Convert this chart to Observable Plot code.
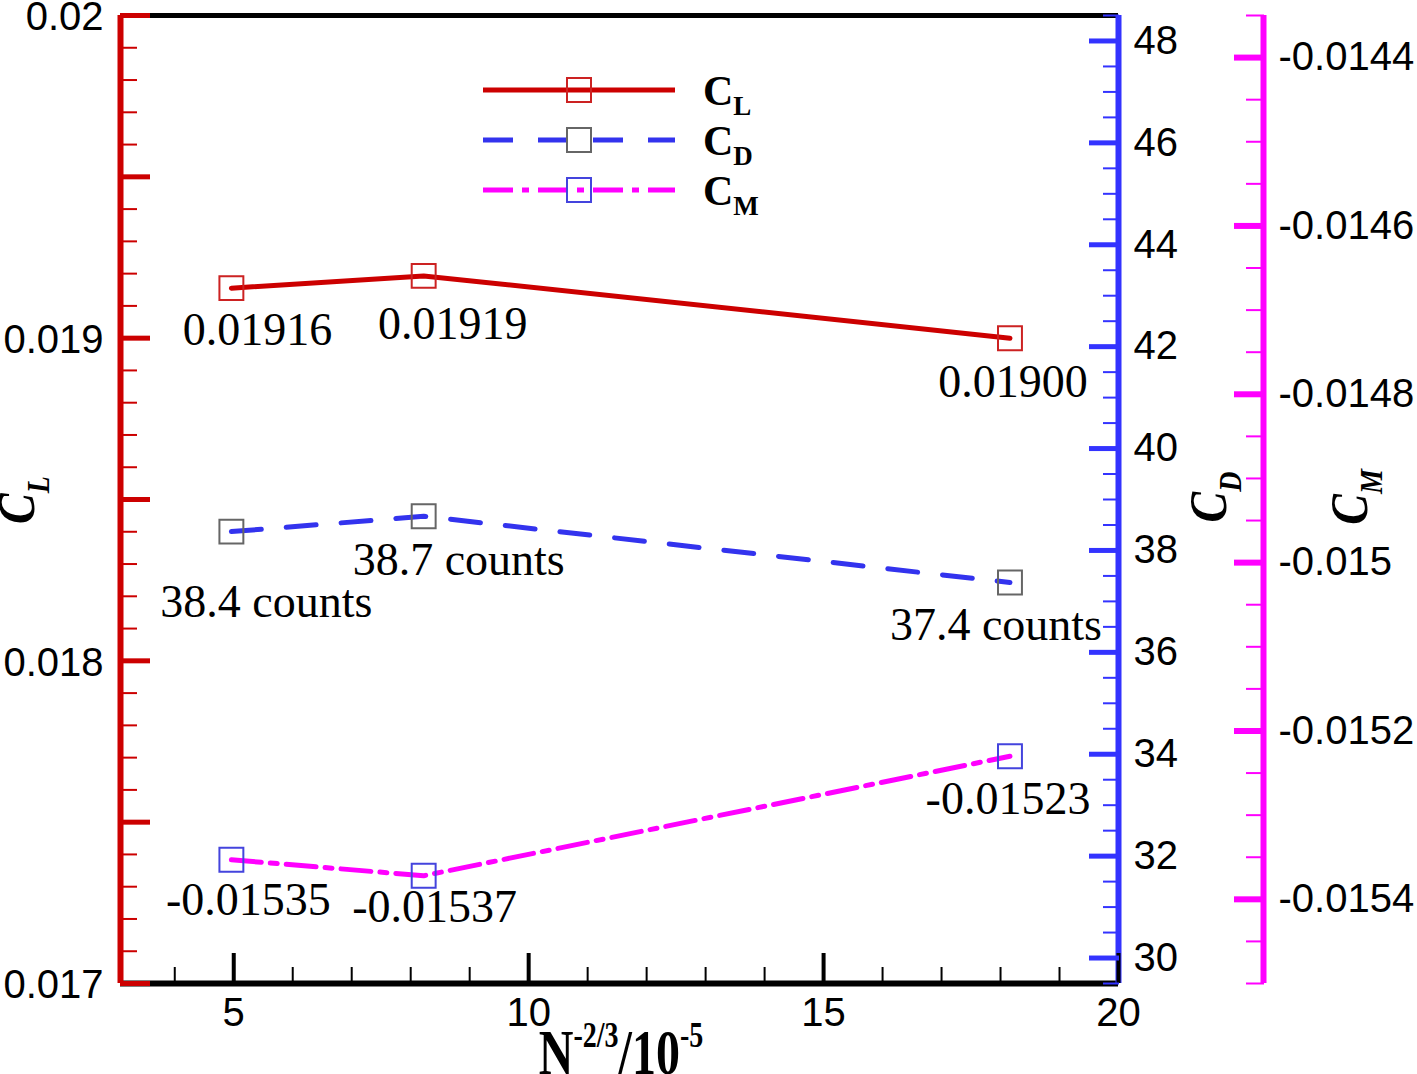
<!DOCTYPE html>
<html><head><meta charset="utf-8">
<script src="https://cdn.jsdelivr.net/npm/d3@7"></script>
<script src="https://cdn.jsdelivr.net/npm/@observablehq/plot@0.6"></script>
<style>body{margin:0;background:#fff}svg{display:block}</style>
</head><body><div id="chart"></div>
<script>
// ---- data ----
const xValues = [4.96, 8.22, 18.16];
const clValues = [0.019155, 0.019193, 0.019000];
const cdValues = [38.37, 38.67, 37.37];
const cmValues = [-0.015353, -0.015372, -0.015230];
const clLabels = ["0.01916", "0.01919", "0.01900"];
const cdLabels = ["38.4 counts", "38.7 counts", "37.4 counts"];
const cmLabels = ["-0.01535", "-0.01537", "-0.01523"];
const xDomain = [3.08, 20];
const clDomain = [0.017, 0.020];
const cdDomain = [29.5, 48.5];
const cmDomain = [-0.0155, -0.01435];
const xTickLabels = [5, 10, 15, 20];
const clTickLabels = [0.017, 0.018, 0.019, 0.02];
const cdTickLabels = [30, 32, 34, 36, 38, 40, 42, 44, 46, 48];
const cmTickLabels = [-0.0154, -0.0152, -0.015, -0.0148, -0.0146, -0.0144];

// ---- styles / layout ----
const RED = "#cc0000", BLUE = "#3333ff", MAG = "#ff00ff";
const W = 1417, H = 1074, mL = 120, mR = 299, mT = 15, mB = 91;
const MAG_DX = 145;
const labelOffsets = {
  CL: [[26, 57], [29, 63], [3, 59]],
  CD: [[35, 85], [35, 59], [-14, 57]],
  CM: [[17, 55], [11, 46], [-2, 58]]
};

const cdToCL = d3.scaleLinear(cdDomain, clDomain);
const cmToCL = d3.scaleLinear(cmDomain, clDomain);

const rows = (name, vals, map, labels) => xValues.map((x, i) => ({series: name, x, y: map(vals[i]), label: labels[i], i}));
const clRows = rows("CL", clValues, v => v, clLabels);
const cdRows = rows("CD", cdValues, cdToCL, cdLabels);
const cmRows = rows("CM", cmValues, cmToCL, cmLabels);

const xMinor = d3.range(4, 20, 1);
const clMajor = d3.range(0, 7).map(i => clDomain[0] + i * 0.0005);
const clMinor = d3.range(0, 31).map(i => clDomain[0] + i * 0.0001);
const cdMinor = d3.range(0, 39).map(i => cdDomain[0] + i * 0.5);
const cmMinor = d3.range(0, 24).map(i => cmDomain[0] + i * 0.00005);

const labelMarks = [];
for (const [rs, key] of [[clRows, "CL"], [cdRows, "CD"], [cmRows, "CM"]]) {
  rs.forEach((r, i) => {
    labelMarks.push(Plot.text([r], {x: "x", y: "y", text: "label", dx: labelOffsets[key][i][0], dy: labelOffsets[key][i][1],
      lineAnchor: "bottom", textAnchor: "middle", fontFamily: "Liberation Serif", fontSize: 46, fill: "black"}));
  });
}

const chart = Plot.plot({
  width: W, height: H,
  marginLeft: mL, marginRight: mR, marginTop: mT, marginBottom: mB,
  style: {fontFamily: "Liberation Sans", fontSize: "40px", color: "black", background: "white", overflow: "visible"},
  x: {domain: xDomain, label: null},
  y: {domain: clDomain, label: null},
  marks: [
    // frame
    Plot.ruleY([clDomain[1]], {stroke: "black", strokeWidth: 5}),
    Plot.ruleY([clDomain[0]], {stroke: "black", strokeWidth: 6}),
    Plot.ruleX([xDomain[0]], {stroke: RED, strokeWidth: 6}),
    Plot.ruleX([xDomain[1]], {stroke: BLUE, strokeWidth: 6}),
    Plot.ruleX([xDomain[1]], {stroke: MAG, strokeWidth: 6, dx: MAG_DX}),
    // left CL axis ticks (inward)
    Plot.axisY(clMinor, {anchor: "left", tickSize: 17, dx: 17, stroke: RED, strokeWidth: 2, fill: "none", label: null}),
    Plot.axisY(clMajor, {anchor: "left", tickSize: 30, dx: 30, stroke: RED, strokeWidth: 5, fill: "none", label: null}),
    Plot.axisY(clTickLabels, {anchor: "left", tickSize: 0, tickPadding: 17, dy: 2, tickFormat: d => String(d), fontSize: 40, label: null}),
    // bottom x axis
    Plot.axisX(xMinor, {anchor: "bottom", tickSize: 16, dy: -16, stroke: "black", strokeWidth: 2, fill: "none", label: null}),
    Plot.axisX(xTickLabels, {anchor: "bottom", tickSize: 30, dy: -30, stroke: "black", strokeWidth: 4, fill: "none", label: null}),
    Plot.axisX(xTickLabels, {anchor: "bottom", tickSize: 0, tickPadding: 14, tickFormat: d => String(d), fontSize: 40, label: null}),
    // right CD axis
    Plot.axisY(cdMinor.map(cdToCL), {anchor: "right", tickSize: 16, dx: -16, stroke: BLUE, strokeWidth: 2, fill: "none", label: null}),
    Plot.axisY(cdTickLabels.map(cdToCL), {anchor: "right", tickSize: 30, dx: -30, stroke: BLUE, strokeWidth: 5, fill: "none", label: null}),
    Plot.axisY(cdTickLabels.map(cdToCL), {anchor: "right", tickSize: 0, tickPadding: 15, tickFormat: v => String(Math.round(cdToCL.invert(v))), fontSize: 40, label: null}),
    // offset CM axis
    Plot.axisY(cmMinor.map(cmToCL), {anchor: "right", tickSize: 18, dx: MAG_DX - 18, stroke: MAG, strokeWidth: 2, fill: "none", label: null}),
    Plot.axisY(cmTickLabels.map(cmToCL), {anchor: "right", tickSize: 30, dx: MAG_DX - 30, stroke: MAG, strokeWidth: 6, fill: "none", label: null}),
    Plot.axisY(cmTickLabels.map(cmToCL), {anchor: "right", tickSize: 0, tickPadding: 15, dx: MAG_DX, tickFormat: v => String(+cmToCL.invert(v).toFixed(5)), fontSize: 40, label: null}),
    // series
    Plot.line(clRows, {x: "x", y: "y", stroke: RED, strokeWidth: 5}),
    Plot.line(cdRows, {x: "x", y: "y", stroke: "#3333ee", strokeWidth: 5, strokeDasharray: "30,25"}),
    Plot.line(cmRows, {x: "x", y: "y", stroke: MAG, strokeWidth: 5, strokeDasharray: "30,9,7,9"}),
    Plot.dot(clRows, {x: "x", y: "y", symbol: "square", r: 13.5, stroke: "#cc2222", strokeWidth: 2, fill: "none"}),
    Plot.dot(cdRows, {x: "x", y: "y", symbol: "square", r: 13.5, stroke: "#666666", strokeWidth: 2, fill: "none"}),
    Plot.dot(cmRows, {x: "x", y: "y", symbol: "square", r: 13.5, stroke: "#4444dd", strokeWidth: 2, fill: "none"}),
    ...labelMarks
  ]
});
document.getElementById("chart").appendChild(chart);

// ---- titles and legend ----
const svg = d3.select(chart);
function subTitle(g, main, sub, size, subSize, subShift) {
  const t = g.append("text").attr("text-anchor", "middle")
    .attr("font-family", "Liberation Serif").attr("font-weight", "bold").attr("font-style", "italic");
  t.append("tspan").attr("font-size", size).text(main);
  t.append("tspan").attr("font-size", subSize).attr("dy", subShift).text(sub);
}
subTitle(svg.append("g").attr("transform", "translate(34,500) rotate(-90) scale(1,1.15)"), "C", "L", 46, 28, 13);
subTitle(svg.append("g").attr("transform", "translate(1226,497) rotate(-90) scale(1,1.15)"), "C", "D", 46, 28, 13);
subTitle(svg.append("g").attr("transform", "translate(1367,497) rotate(-90) scale(1,1.15)"), "C", "M", 46, 28, 13);

// x title
const xt = svg.append("g").attr("transform", "translate(621,1074) scale(1,1.3)")
  .append("text").attr("text-anchor", "middle").attr("font-family", "Liberation Serif").attr("font-weight", "bold");
xt.append("tspan").attr("font-size", 48).text("N");
xt.append("tspan").attr("font-size", 28).attr("dy", -21).text("-2/3");
xt.append("tspan").attr("font-size", 48).attr("dy", 21).text("/10");
xt.append("tspan").attr("font-size", 28).attr("dy", -21).text("-5");

// legend
const legendItems = [
  {sub: "L", stroke: RED, dash: null, marker: "#cc2222"},
  {sub: "D", stroke: "#3333ee", dash: "30,25", marker: "#666666"},
  {sub: "M", stroke: MAG, dash: "30,9,7,9", marker: "#4444dd"}
];
legendItems.forEach((it, i) => {
  const y = 90 + 50 * i;
  svg.append("line").attr("x1", 483).attr("x2", 675).attr("y1", y).attr("y2", y)
    .attr("stroke", it.stroke).attr("stroke-width", 5).attr("stroke-dasharray", it.dash);
  svg.append("rect").attr("x", 579 - 12).attr("y", y - 12).attr("width", 24).attr("height", 24)
    .attr("fill", "none").attr("stroke", it.marker).attr("stroke-width", 2);
  const t = svg.append("text").attr("x", 703).attr("y", y + 15).attr("text-anchor", "start")
    .attr("font-family", "Liberation Serif").attr("font-weight", "bold");
  t.append("tspan").attr("font-size", 42).text("C");
  t.append("tspan").attr("font-size", 27).attr("dy", 10).text(it.sub);
});
</script>
</body></html>
